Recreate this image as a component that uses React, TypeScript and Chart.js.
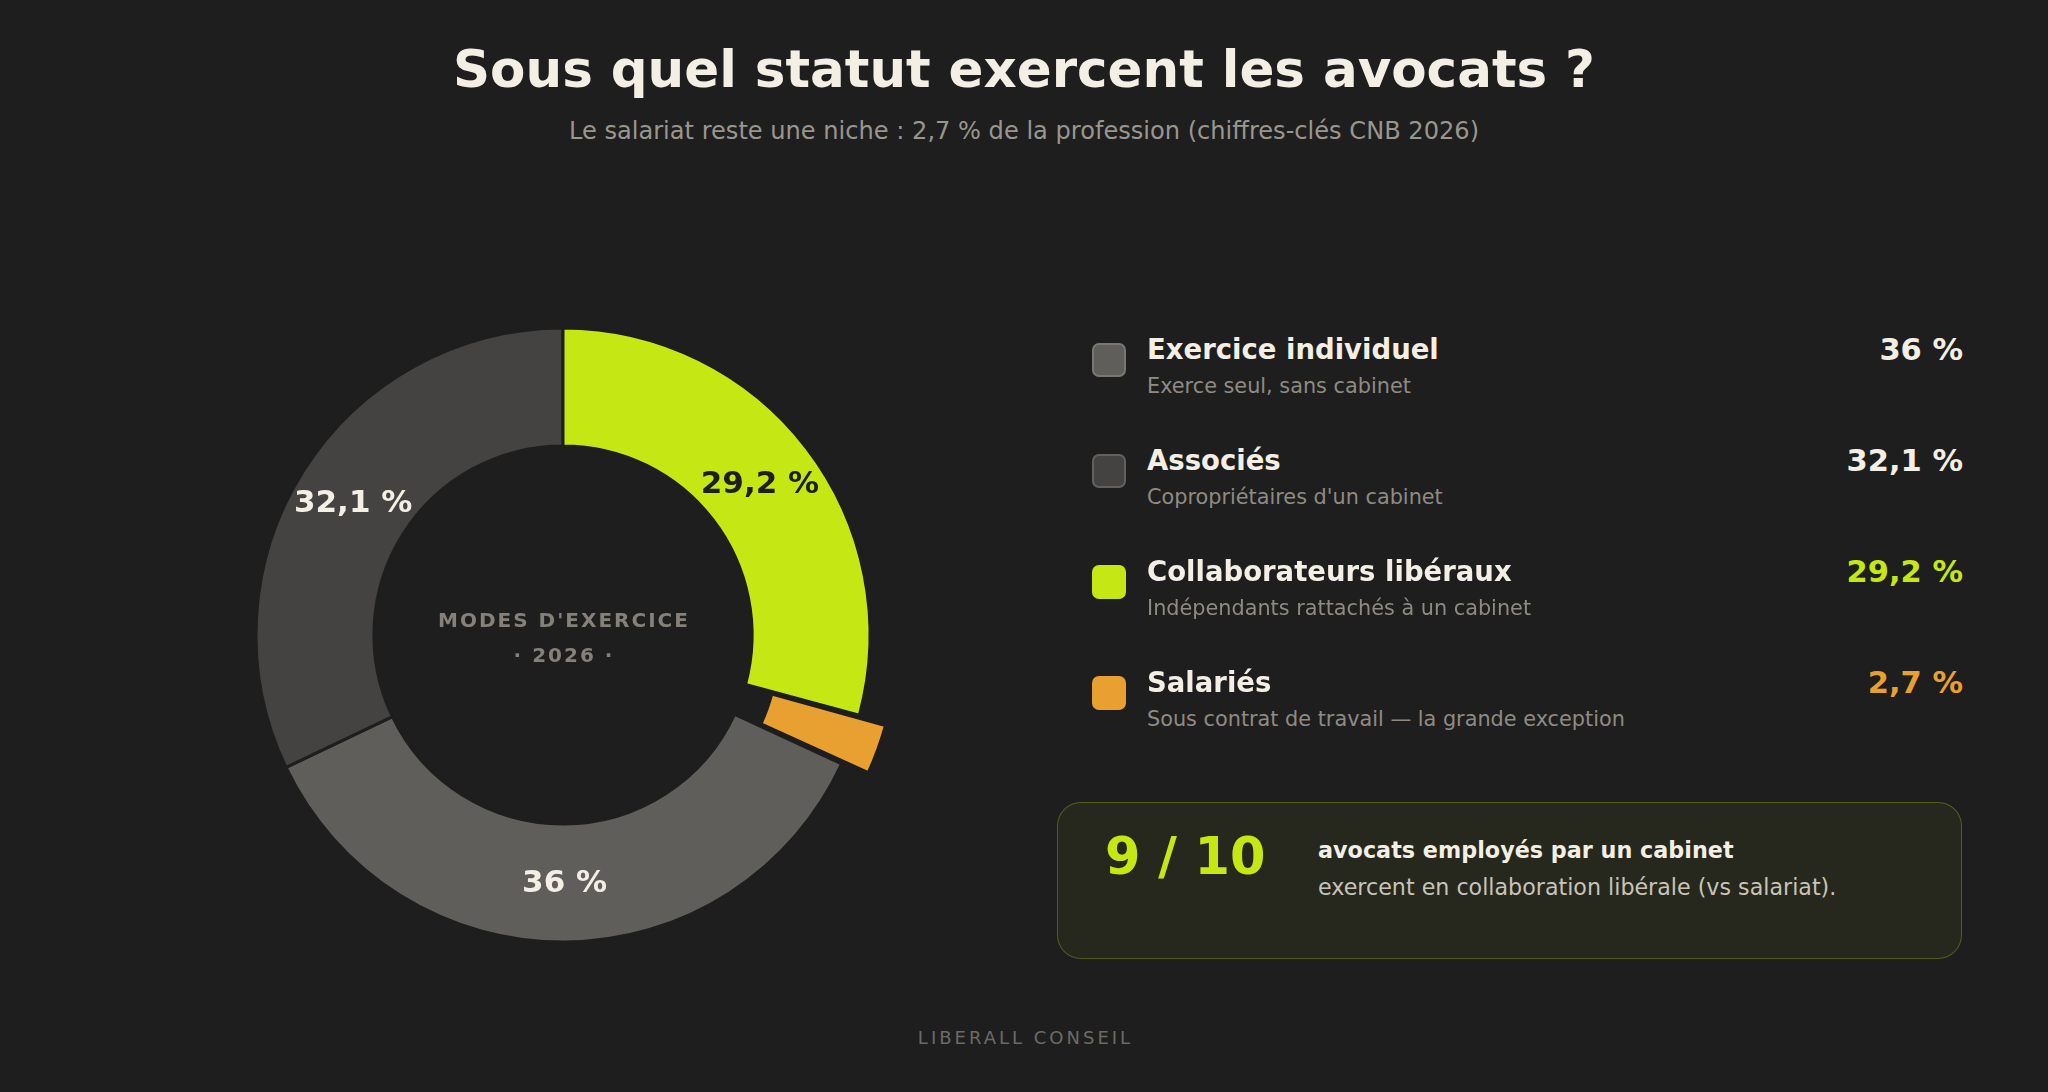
import React, { useEffect, useRef } from "react";
import { Chart, registerables } from "chart.js";

Chart.register(...registerables);

// ---- Data ----
const categories = ["Exercice individuel", "Associés", "Collaborateurs libéraux", "Salariés"];
const descriptions = [
  "Exerce seul, sans cabinet",
  "Copropriétaires d'un cabinet",
  "Indépendants rattachés à un cabinet",
  "Sous contrat de travail — la grande exception",
];
const shares = [36, 32.1, 29.2, 2.7];
const highlighted = "Salariés";

const TITLE = "Sous quel statut exercent les avocats ?";
const SUBTITLE = "Le salariat reste une niche : 2,7 % de la profession (chiffres-clés CNB 2026)";
const CENTER_LINES = ["MODES D'EXERCICE", "· 2026 ·"];
const KPI_VALUE = "9 / 10";
const KPI_LINE1 = "avocats employés par un cabinet";
const KPI_LINE2 = "exercent en collaboration libérale (vs salariat).";
const FOOTER = "LIBERALL CONSEIL";

// ---- Styles ----
const BG = "#1e1e1e";
const CREAM = "#f4efe4";
const sliceColors = ["#5f5e5a", "#454341", "#c5e815", "#e8a030"];
const labelColors = [CREAM, CREAM, "#1e1e1e", CREAM];
const valueColors = [CREAM, CREAM, "#c5e815", "#e8a030"];
const FONT = "'DejaVu Sans', sans-serif";

const fmt = (v: number) => String(v).replace(".", ",") + " %";

// Canvas geometry
const CX = 563;
const CY = 635;
const CANVAS = 720;

function T(props: {
  text: string;
  x: number;
  baseline: number;
  size: number;
  weight?: number | string;
  color: string;
  align?: "left" | "center" | "right";
  ls?: number;
}) {
  const { text, x, baseline, size, weight = 400, color, align = "left", ls = 0 } = props;
  const top = baseline - 0.846 * size;
  const style: React.CSSProperties = {
    position: "absolute",
    top,
    fontFamily: FONT,
    fontSize: size,
    fontWeight: weight as any,
    lineHeight: 1,
    color,
    whiteSpace: "nowrap",
    letterSpacing: ls,
  };
  if (align === "left") {
    style.left = x;
  } else if (align === "right") {
    style.right = 2048 - x - ls;
    style.textAlign = "right";
  } else {
    style.left = x - 600 + ls / 2;
    style.width = 1200;
    style.textAlign = "center";
  }
  return <div style={style}>{text}</div>;
}

export default function App() {
  const canvasRef = useRef<HTMLCanvasElement | null>(null);

  useEffect(() => {
    const canvas = canvasRef.current;
    if (!canvas) return;
    const total = shares.reduce((a, b) => a + b, 0);
    // start so that "Collaborateurs libéraux" begins at 12 o'clock
    const rotation = ((shares[2] + shares[3]) / total) * 360;

    const labelPlugin = {
      id: "sliceLabels",
      afterDatasetsDraw(chart: any) {
        const ctx = chart.ctx;
        const meta = chart.getDatasetMeta(0);
        ctx.save();
        ctx.font = `bold 31px ${FONT}`;
        ctx.textAlign = "center";
        ctx.textBaseline = "middle";
        meta.data.forEach((arc: any, i: number) => {
          const v = shares[i];
          if (v < 5) return;
          const p = arc.getCenterPoint();
          ctx.fillStyle = labelColors[i];
          ctx.fillText(fmt(v), p.x, p.y + 1);
        });
        ctx.restore();
      },
    };

    const chart = new Chart(canvas, {
      type: "doughnut",
      data: {
        labels: categories,
        datasets: [
          {
            data: shares,
            backgroundColor: sliceColors,
            borderColor: BG,
            borderWidth: 3,
            offset: categories.map((c) => (c === highlighted ? 61 : 0)),
            hoverOffset: 0,
          },
        ],
      },
      options: {
        responsive: false,
        maintainAspectRatio: false,
        animation: false,
        devicePixelRatio: 1,
        rotation,
        radius: 307,
        cutout: "61.6%",
        layout: { padding: 0 },
        events: [],
        plugins: {
          legend: { display: false },
          tooltip: { enabled: false },
        },
      } as any,
      plugins: [labelPlugin],
    });
    return () => chart.destroy();
  }, []);

  const rowStep = 111;

  return (
    <div
      style={{
        position: "fixed",
        left: 0,
        top: 0,
        width: 2048,
        height: 1092,
        background: BG,
        overflow: "hidden",
        fontFamily: FONT,
      }}
    >
      <T text={TITLE} x={1024} baseline={88} size={51.5} weight={700} color={CREAM} align="center" />
      <T text={SUBTITLE} x={1024} baseline={139} size={24.1} color="#9a968e" align="center" />

      <canvas
        ref={canvasRef}
        width={CANVAS}
        height={CANVAS}
        style={{
          position: "absolute",
          left: CX - CANVAS / 2,
          top: CY - CANVAS / 2,
          width: CANVAS,
          height: CANVAS,
        }}
      />

      <T text={CENTER_LINES[0]} x={CX} baseline={627} size={20} weight={700} color="#85817a" align="center" ls={2} />
      <T text={CENTER_LINES[1]} x={CX} baseline={662} size={20} weight={700} color="#85817a" align="center" ls={2} />

      {categories.map((c, i) => {
        const y0 = 343 + i * rowStep;
        const bordered = i < 2;
        return (
          <React.Fragment key={c}>
            <div
              style={{
                position: "absolute",
                left: 1092,
                top: y0,
                width: 34,
                height: 34,
                boxSizing: "border-box",
                borderRadius: 7,
                background: sliceColors[i],
                border: bordered ? "2px solid rgba(255,255,255,0.16)" : "none",
              }}
            />
            <T text={c} x={1147} baseline={359.5 + i * rowStep} size={27.5} weight={700} color={CREAM} />
            <T text={descriptions[i]} x={1147} baseline={394 + i * rowStep} size={20.8} color="#8f8b83" />
            <T
              text={fmt(shares[i])}
              x={1963}
              baseline={360.5 + i * rowStep}
              size={30.5}
              weight={700}
              color={valueColors[i]}
              align="right"
            />
          </React.Fragment>
        );
      })}

      <div
        style={{
          position: "absolute",
          left: 1057,
          top: 802,
          width: 905,
          height: 157,
          boxSizing: "border-box",
          borderRadius: 24,
          background: "rgba(197,232,21,0.05)",
          border: "1.5px solid rgba(197,232,21,0.28)",
        }}
      />
      <T text={KPI_VALUE} x={1105} baseline={874} size={51} weight={700} color="#c5e815" />
      <T text={KPI_LINE1} x={1318} baseline={858} size={22.3} weight={700} color={CREAM} />
      <T text={KPI_LINE2} x={1318} baseline={895} size={22.2} color="#c9c4b9" />

      <T text={FOOTER} x={1024} baseline={1044} size={18} color="#6d6a65" align="center" ls={3} />
    </div>
  );
}
